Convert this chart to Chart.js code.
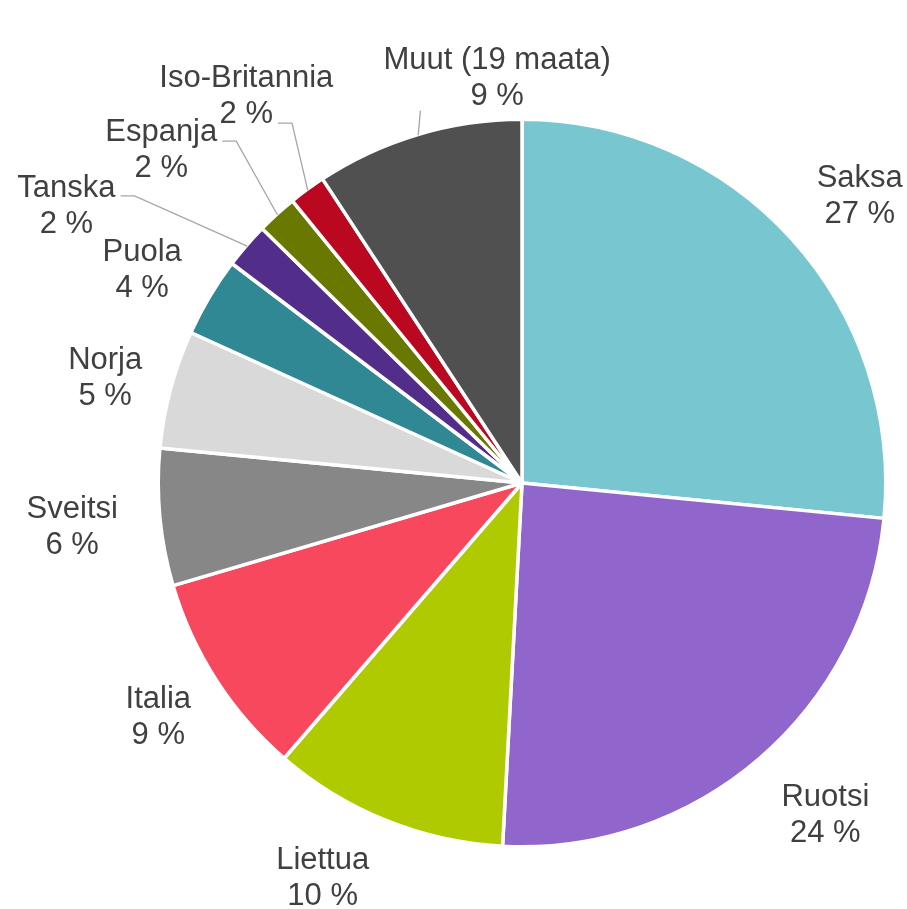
<!DOCTYPE html>
<html><head><meta charset="utf-8">
<script src="https://cdn.jsdelivr.net/npm/chart.js@4.4.1/dist/chart.umd.min.js"></script>
<style>html,body{margin:0;padding:0;background:#fff;}#wrap{width:907px;height:909px;}</style>
</head><body><div id="wrap"><canvas id="c" width="907" height="909"></canvas></div>
<script>
const countries = ['Saksa','Ruotsi','Liettua','Italia','Sveitsi','Norja','Puola','Tanska','Espanja','Iso-Britannia','Muut (19 maata)'];
const shares = [26.55, 24.3, 10.49, 9.11, 6.08, 5.26, 3.52, 2.02, 1.80, 1.63, 9.24];
const sliceColors = ['#78C7D0','#9166CC','#AFCB00','#F7485E','#878787','#D9D9D9','#2F8894','#522D8A','#687800','#BA0820','#505050'];

// label layout (pixel nudges from the outside-end anchor on each slice's mid-angle)
const labelNudge = [[12,6.5],[16.7,-3.7],[-35,-15],[6,-6],[-12,0],[8,6.7],[-2,10],[-122.4,7.9],[-64.4,-10],[-16,-34],[101,14]];
// leader lines: null = none; {line: which text line to attach to}; 'straight' = plain line below label
const leaderSpec = [null,null,null,null,null,null,null,{line:0,dy:-1},{line:0,dy:0},{line:1,dy:0},'straight'];

const total = shares.reduce((a,b)=>a+b,0);
const FONT = '31px "Liberation Sans", Arial, sans-serif';
const TEXT_COLOR = '#404040';
const LEAD_COLOR = '#A6A6A6';

const outLabels = {
  id: 'outLabels',
  afterDatasetsDraw(chart) {
    const ctx = chart.ctx;
    const meta = chart.getDatasetMeta(0);
    ctx.save();
    ctx.font = FONT;
    ctx.textAlign = 'center';
    ctx.textBaseline = 'alphabetic';
    meta.data.forEach((arc, i) => {
      const p = arc.getProps(['x','y','startAngle','endAngle','outerRadius'], true);
      const mid = (p.startAngle + p.endAngle) / 2;
      const ux = Math.cos(mid), uy = Math.sin(mid);
      const cx = p.x + (p.outerRadius + 76) * ux + labelNudge[i][0];
      const cy = p.y + (p.outerRadius + 76) * uy + labelNudge[i][1];
      const b1 = cy - 7, b2 = b1 + 36;
      const t0 = countries[i];
      const t1 = Math.round(shares[i] / total * 100) + ' %';
      ctx.fillStyle = TEXT_COLOR;
      ctx.fillText(t0, cx, b1);
      ctx.fillText(t1, cx, b2);
      const spec = leaderSpec[i];
      if (spec) {
        const px = p.x + (p.outerRadius - 1) * ux;
        const py = p.y + (p.outerRadius - 1) * uy;
        ctx.strokeStyle = LEAD_COLOR;
        ctx.lineWidth = 1.3;
        ctx.beginPath();
        if (spec === 'straight') {
          const w0 = ctx.measureText(t0).width;
          ctx.moveTo(px, py);
          ctx.lineTo(cx - w0 / 2 + 37, b2 + 6);
        } else {
          const t = spec.line === 0 ? t0 : t1;
          const by = (spec.line === 0 ? b1 : b2) + spec.dy;
          const w = ctx.measureText(t).width;
          const hx = cx + w / 2 + 5;
          ctx.moveTo(hx, by);
          ctx.lineTo(hx + 14, by);
          ctx.lineTo(px, py);
        }
        ctx.stroke();
      }
    });
    ctx.restore();
  }
};

new Chart(document.getElementById('c'), {
  type: 'pie',
  data: {
    labels: countries,
    datasets: [{
      data: shares,
      backgroundColor: sliceColors,
      borderColor: '#ffffff',
      borderWidth: 3.5
    }]
  },
  options: {
    responsive: false,
    animation: false,
    devicePixelRatio: 1,
    layout: { padding: { left: 156.5, right: 19.5, top: 117.5, bottom: 60.5 } },
    plugins: { legend: { display: false }, tooltip: { enabled: false } }
  },
  plugins: [outLabels]
});
</script>
</body></html>
